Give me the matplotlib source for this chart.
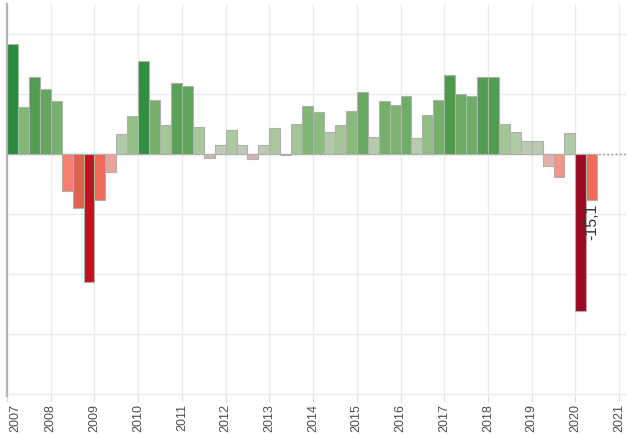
import numpy as np
import matplotlib
matplotlib.use("Agg")
import matplotlib.pyplot as plt
from matplotlib.transforms import ScaledTranslation

# quarterly values, 2007 Q1 .. 2020 Q2
years = list(range(2007, 2022))
values = [
    36.7, 15.8, 25.6, 21.7,    # 2007
    17.6, -12.2, -17.8, -42.4,  # 2008
    -15.2, -5.8, 6.8, 12.8,    # 2009
    31.1, 18.0, 9.8, 23.6,     # 2010
    22.6, 8.9, -1.4, 3.0,      # 2011
    8.2, 3.0, -1.7, 3.0,       # 2012
    8.6, -0.4, 10.0, 16.0,     # 2013
    14.0, 7.4, 9.6, 14.4,      # 2014
    20.7, 5.7, 17.8, 16.4,     # 2015
    19.4, 5.3, 13.0, 18.1,     # 2016
    26.2, 19.9, 19.3, 25.6,    # 2017
    25.6, 9.9, 7.4, 4.3,       # 2018
    4.3, -3.8, -7.6, 6.9,      # 2019
    -52.2, -15.1,              # 2020
]
last_label = "-15,1"

# colour scale: value -> colour
stops = [-52, -42, -18, -15, -12, -7.5, -4, -1.5, 0, 4, 8, 15, 20, 26, 31, 37]
stop_cols = ['#9b0a23', '#c0141c', '#e55d4b', '#ef6a58', '#f6806f', '#f1968a',
             '#e3b0ab', '#d0b3b3', '#c8c4c0', '#bccbb3', '#aecaa0', '#86b878',
             '#6aab63', '#4e9c4f', '#30903f', '#2a8a3e']
rgb = np.array([matplotlib.colors.to_rgb(c) for c in stop_cols])


def val_color(v):
    return tuple(np.interp(v, stops, rgb[:, i]) for i in range(3))


x = np.array([2007 + i * 0.25 for i in range(len(values))])
colors = [val_color(v) for v in values]

fig = plt.figure(figsize=(6.27, 4.34), dpi=100)
ax = fig.add_axes([7 / 627, 1 - 396 / 434, 1 - 7 / 627, 392 / 434])

ax.axhline(0, color='#888888', lw=1, ls=(0, (1, 2)), zorder=1)
ax.bar(x, values, width=0.25, align='edge', color=colors,
       edgecolor='#b0b0b0', linewidth=0.8, zorder=2)

ax.set_xlim(2007, 2021.18)
ax.set_ylim(-80.5, 50)
ax.set_xticks(years)
ax.set_xticklabels([str(y) for y in years], rotation=90,
                   fontsize=9, color='#4d4d4d', family='Liberation Sans')
ax.set_yticks(range(-80, 41, 20))
ax.set_yticklabels([])
ax.tick_params(axis='y', length=0)
ax.tick_params(axis='x', length=4, color='#dddddd', pad=2)
ax.grid(True, color='#ebebeb', lw=1)
ax.set_axisbelow(True)

for s in ['top', 'right', 'bottom']:
    ax.spines[s].set_visible(False)
ax.spines['left'].set_color('#b3b3b3')
ax.spines['left'].set_linewidth(1.6)

# first year label nudged inside the figure
lab0 = ax.get_xticklabels()[0]
lab0.set_transform(lab0.get_transform() + ScaledTranslation(8 / 100, 0, fig.dpi_scale_trans))

# value label of last bar
ax.annotate(last_label, (x[-1] + 0.125, values[-1]), xytext=(0, -3),
            textcoords='offset points', rotation=90, ha='center', va='top',
            fontsize=11.5, color='#333333', family='Liberation Sans')

fig.savefig('out.png', dpi=100)
